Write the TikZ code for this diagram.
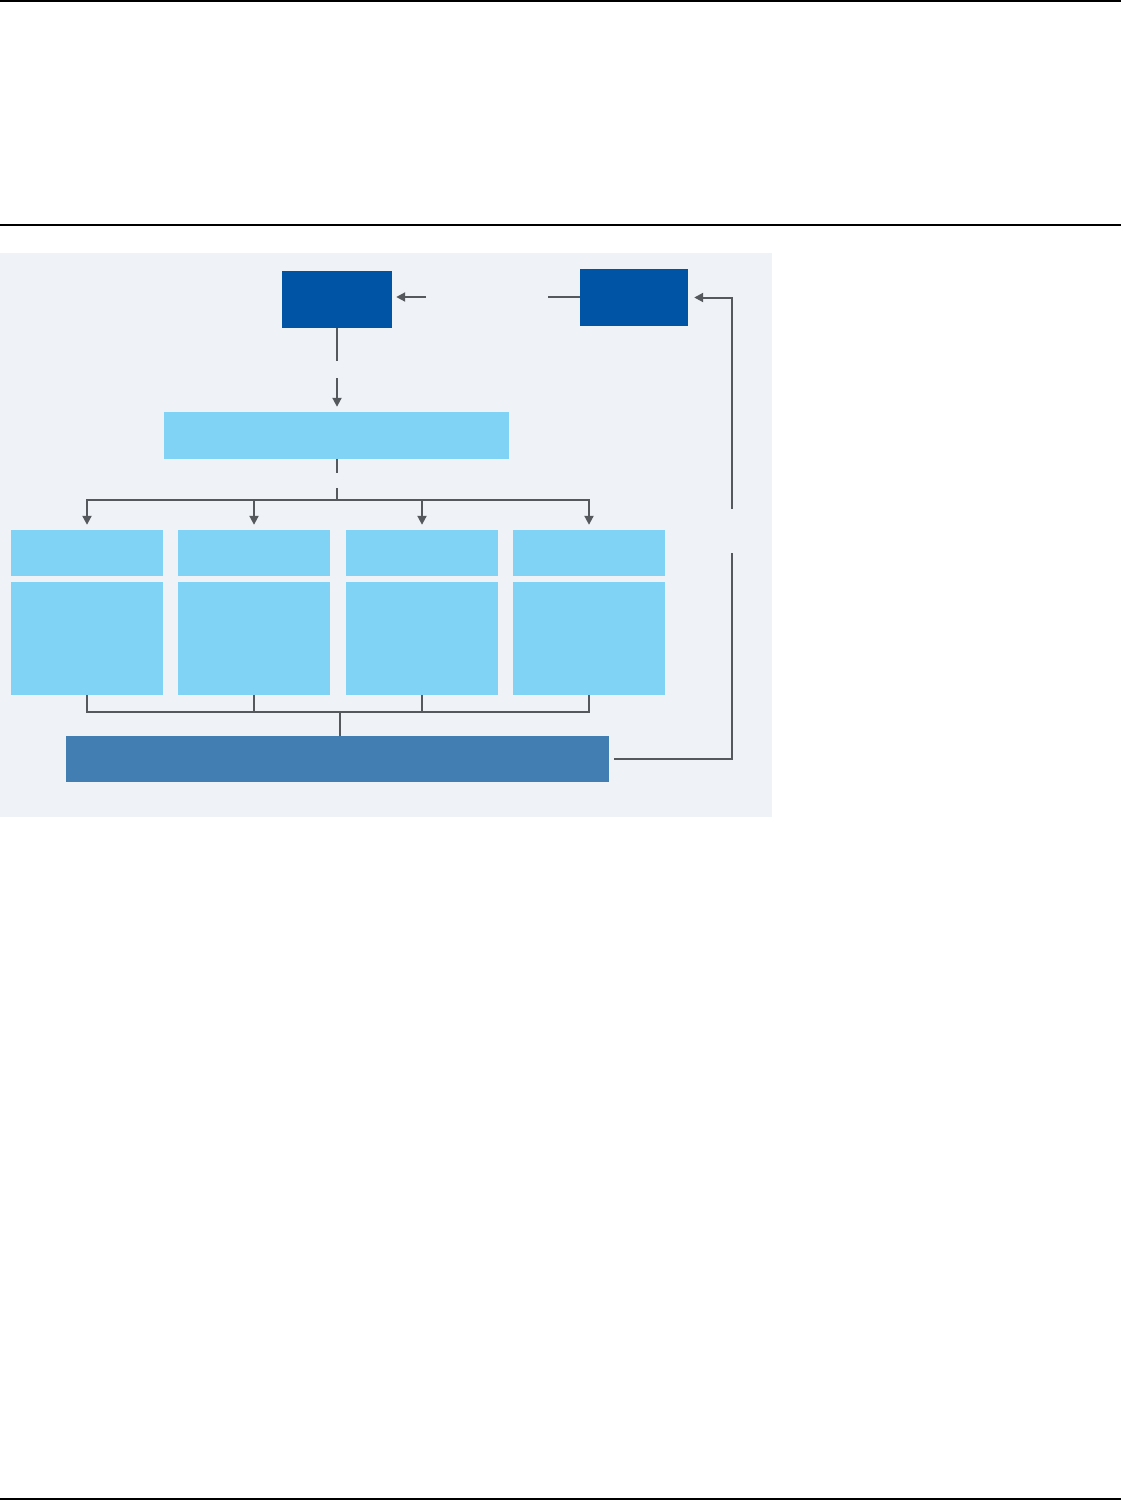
\documentclass[tikz,border=0pt]{standalone}
\usepackage{xcolor}
\usepackage{tikz}
\usetikzlibrary{arrows.meta,positioning,calc}
\definecolor{navyblk}{HTML}{0054A6}
\definecolor{skyblk}{HTML}{80D3F5}
\definecolor{steelblk}{HTML}{427EB2}
\definecolor{panelbg}{HTML}{EFF3F7}
\definecolor{wire}{HTML}{55595D}

\begin{document}
\begin{tikzpicture}[x=1pt,y=-1pt,
  blk/.style={rectangle, inner sep=0pt, draw=none},
  conn/.style={draw=wire, line width=2pt},
  arr/.style={conn, -{Triangle[length=9pt,width=9pt]}}]
\useasboundingbox (0,0) rectangle (1123,1500);
% page rules and panel
\draw[line width=1.2pt] (0,1) -- (1121,1);
\draw[line width=1.2pt] (0,225) -- (1121,225);
\draw[line width=1.2pt] (0,1499) -- (1121,1499);
\fill[panelbg] (0,253) rectangle (772,817);

\node[blk, fill=navyblk, minimum width=110pt, minimum height=57pt] (src) at (337,299.5) {};
\node[blk, fill=navyblk, minimum width=108pt, minimum height=57pt] (ctl) at (634,297.5) {};
\node[blk, fill=skyblk, minimum width=345pt, minimum height=47pt] (hub) at (336.5,435.5) {};
\foreach \i/\x in {1/87,2/254,3/422,4/589}{
  \node[blk, fill=skyblk, minimum width=152pt, minimum height=46pt] (head\i) at (\x,553) {};
  \node[blk, fill=skyblk, minimum width=152pt, minimum height=113pt] (body\i) at (\x,638.5) {};
}
\node[blk, fill=steelblk, minimum width=543pt, minimum height=46pt] (out) at (337.5,759) {};

% top row
\coordinate (inA) at (426,297);
\coordinate (outB) at (548,297);
\draw[arr, shorten >=4pt] (inA) -- (src.east |- inA);
\draw[conn] (ctl.west |- outB) -- (outB);
% src -> hub, broken where the label sits
\coordinate (g1) at (337,361);
\coordinate (g2) at (337,378);
\draw[conn] (src.south) -- (g1);
\draw[arr, shorten >=5pt] (g2) -- (g2 |- hub.north);
% hub -> four branches
\coordinate (g3) at (337,473);
\coordinate (bus) at (337,500);
\draw[conn] (hub.south -| g3) -- (g3);
\draw[conn] (337,488) -- (bus);
\foreach \i in {1,...,4}
  \draw[arr, shorten >=5pt] (bus) -| (head\i.north);
% branches -> output
\coordinate (join) at (340,712);
\foreach \i in {1,...,4}
  \draw[conn] (body\i.south) |- (join);
\draw[conn] (join) -- (join |- out.north);
% feedback
\coordinate (fbTop) at (732,509);
\coordinate (fbBot) at (732,553);
\draw[arr, shorten >=6pt] (fbTop) |- (ctl.east);
\draw[conn] (fbBot) |- ([xshift=5pt]out.east);
\end{tikzpicture}
\end{document}
